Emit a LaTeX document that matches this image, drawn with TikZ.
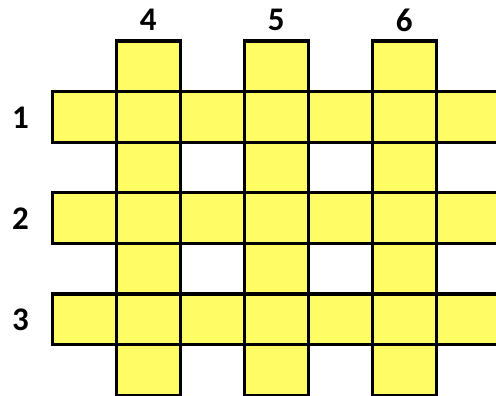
\documentclass[tikz,border=0pt]{standalone}
\usepackage{fontspec}
\setmainfont{Carlito}
\definecolor{cellyellow}{HTML}{FFFC66}
\begin{document}
\begin{tikzpicture}[x=1pt,y=1pt,
  cell/.style={draw=black, fill=cellyellow, line width=3.3pt, minimum width=64pt, minimum height=50.6pt, inner sep=0pt, outer sep=0pt, anchor=north west},
  lbl/.style={font=\fontsize{33}{33}\selectfont\bfseries, inner sep=0pt}]
\clip (0,0) rectangle (496,-396);
\fill[white] (0,0) rectangle (496,-396);
\foreach \i in {0,...,6} {
  \foreach \j in {0,...,6} {
    \pgfmathtruncatemacro{\ok}{(mod(\i,2)==1) || (mod(\j,2)==1)}
    \ifnum\ok=1
      \node[cell] (c-\i-\j) at ({52.3+64*\i}, {-41-50.6*\j}) {};
    \fi
  }
}
\node[lbl] (col4) at (148.3,-20) {4};
\node[lbl] (col5) at (276.3,-20) {5};
\node[lbl] (col6) at (404.3,-20) {6};
\node[lbl] (row1) at (20.5,-117.5) {1};
\node[lbl] (row2) at (20.5,-218.7) {2};
\node[lbl] (row3) at (20.5,-319.5) {3};
\end{tikzpicture}
\end{document}
